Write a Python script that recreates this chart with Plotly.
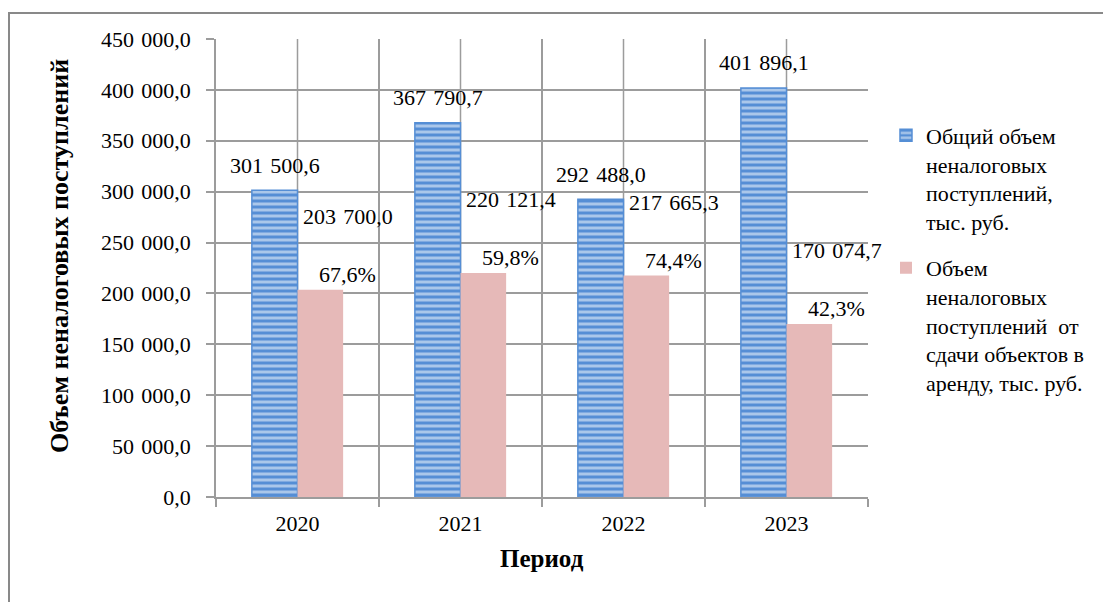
import plotly.graph_objects as go

# Data
years = ["2020", "2021", "2022", "2023"]
total = [301500.6, 367790.7, 292488.0, 401896.1]
rent = [203700.0, 220121.4, 217665.3, 170074.7]
share = [67.6, 59.8, 74.4, 42.3]
y_ticks = [0, 50000, 100000, 150000, 200000, 250000, 300000, 350000, 400000, 450000]

FONT = "Liberation Serif"
BLUE = "#558ED5"
PINK = "#E6B9B8"
GRID = "#9C9C9C"


def fmt(v):
    # 301 500,6 style
    return f"{v:,.1f}".replace(",", "\u2004").replace(".", ",")


fig = go.Figure()

# blue bars: white thin stripes over blue
fig.add_trace(go.Bar(
    x=years, y=total, legendgroup="a",
    name="Общий объем<br>неналоговых<br>поступлений,<br>тыс. руб.",
    marker=dict(color=BLUE, line=dict(color=BLUE, width=1.5),
                pattern=dict(shape="-", fgcolor="white", bgcolor=BLUE, size=6,
                             solidity=0.5, fillmode="overlay")),
))
fig.add_trace(go.Bar(
    x=years, y=rent, legendgroup="b",
    name="Объем<br>неналоговых<br>поступлений  от<br>сдачи объектов в<br>аренду, тыс. руб.",
    marker=dict(color=PINK, line=dict(width=0)),
))

# data labels (category positions by index)
for i, (t, r, s) in enumerate(zip(total, rent, share)):
    fig.add_annotation(x=i, y=t, text=fmt(t), showarrow=False,
                       xshift=-23, yshift=25, yanchor="middle")
    fig.add_annotation(x=i, y=r, text=fmt(r), showarrow=False,
                       xshift=50, yshift=73, yanchor="middle")
    fig.add_annotation(x=i, y=r, text=f"{s:.1f}%".replace(".", ","), showarrow=False,
                       xshift=50, yshift=15, yanchor="middle")

# vertical grid lines through category centres
for i in range(len(years)):
    fig.add_shape(type="line", x0=i, x1=i, yref="paper", y0=0, y1=1,
                  line=dict(color=GRID, width=1.5), layer="below")

# axis titles
fig.add_annotation(text="<b>Объем неналоговых поступлений</b>", textangle=-90,
                   xref="paper", yref="paper", x=-0.239, y=0.5265, font=dict(size=26),
                   showarrow=False, xanchor="center", yanchor="middle")
fig.add_annotation(text="<b>Период</b>", xref="paper", yref="paper", x=0.5, y=-0.135,
                   font=dict(size=25), showarrow=False, xanchor="center", yanchor="middle")

# outer frame
fig.add_shape(type="rect", xref="paper", yref="paper", x0=-0.3175, x1=2, y0=-1, y1=1.0567,
              line=dict(color="#898989", width=2), fillcolor="rgba(0,0,0,0)")

fig.update_layout(
    width=1111, height=602,
    margin=dict(l=208, r=251, t=31, b=113),
    paper_bgcolor="white", plot_bgcolor="white",
    font=dict(family=FONT, size=22, color="black"),
    barmode="group", bargap=0.44, bargroupgap=0,
    showlegend=True,
    legend=dict(x=1.0276, y=0.835, xanchor="left", yanchor="top", valign="top",
                font=dict(size=22), tracegroupgap=15, bgcolor="rgba(0,0,0,0)"),
)
fig.update_xaxes(type="category", tickson="boundaries", ticks="outside", ticklen=8,
                 tickcolor=GRID, tickwidth=1.5, showgrid=True, gridcolor=GRID, gridwidth=1.5,
                 showline=True, linecolor=GRID, linewidth=1.5, range=[-0.5, 3.5],
                 ticklabelstandoff=6)
fig.update_yaxes(range=[0, 450000], tickvals=y_ticks, ticktext=[fmt(v) for v in y_ticks],
                 ticks="outside", ticklen=8, tickcolor=GRID, tickwidth=1.5,
                 showgrid=True, gridcolor=GRID, gridwidth=1.5, zeroline=False,
                 showline=True, linecolor=GRID, linewidth=1.5, ticklabelstandoff=11)

fig.write_html("out.html")
